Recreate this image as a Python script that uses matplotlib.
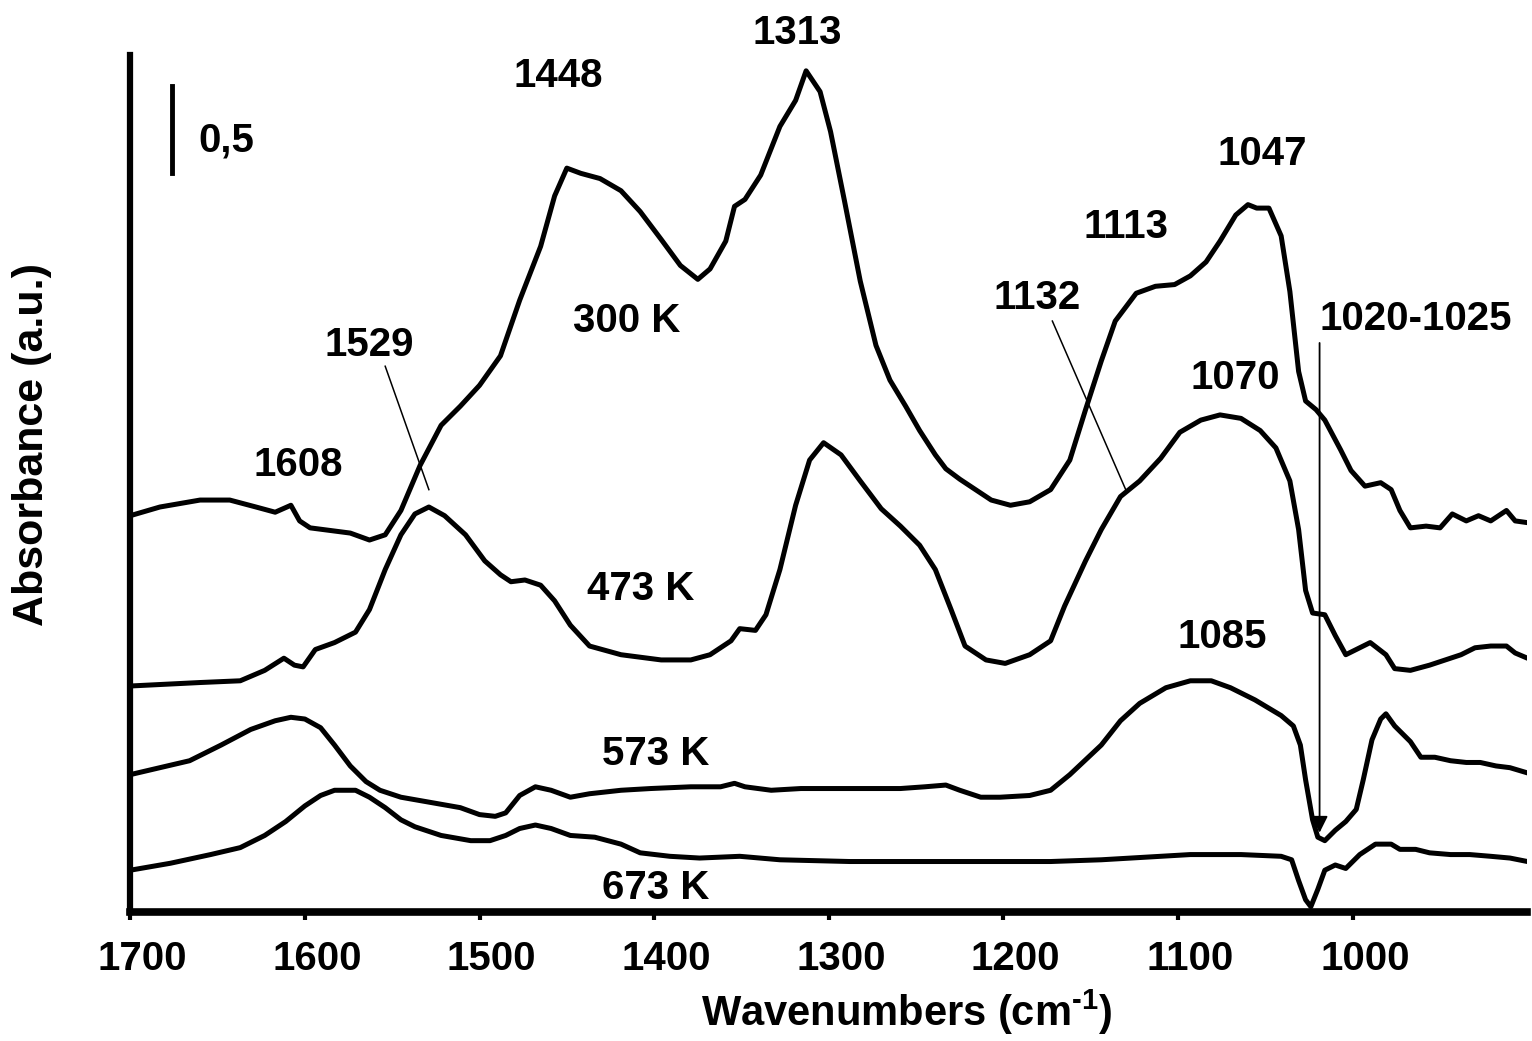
import matplotlib.pyplot as plt
import matplotlib.transforms as mtransforms

plt.rcParams['font.family'] = ['Liberation Sans', 'DejaVu Sans']
plt.rcParams['font.weight'] = 'bold'
plt.rcParams['mathtext.fontset'] = 'custom'
plt.rcParams['mathtext.bf'] = 'Liberation Sans:bold'
plt.rcParams['mathtext.rm'] = 'Liberation Sans:bold'

# spectra: wavenumber (cm-1), absorbance (a.u.)
wn_300 = [1700, 1683, 1660, 1643, 1628, 1617, 1608, 1603, 1597, 1574, 1563, 1554, 1545, 1534, 1522,
          1511, 1500, 1488, 1477, 1465, 1457, 1450, 1442, 1431, 1419, 1408, 1396, 1385, 1375, 1368,
          1359, 1354, 1348, 1339, 1328, 1319, 1313, 1305, 1299, 1291, 1282, 1273, 1265, 1256, 1248,
          1239, 1233, 1225, 1216, 1207, 1196, 1185, 1173, 1162, 1153, 1144, 1136, 1124, 1113, 1102,
          1093, 1084, 1076, 1067, 1060, 1055, 1048, 1041, 1036, 1031, 1027, 1021, 1016, 1007, 1001,
          993, 984, 978, 973, 967, 958, 950, 943, 935, 928, 921, 912, 907, 900]
abs_300 = [2.28, 2.33, 2.37, 2.37, 2.33, 2.30, 2.34, 2.25, 2.21, 2.18, 2.14, 2.17, 2.31, 2.57, 2.80,
           2.91, 3.03, 3.20, 3.52, 3.83, 4.12, 4.28, 4.25, 4.22, 4.15, 4.03, 3.87, 3.72, 3.64, 3.70,
           3.86, 4.06, 4.10, 4.24, 4.52, 4.67, 4.84, 4.72, 4.49, 4.09, 3.63, 3.26, 3.06, 2.91, 2.77,
           2.63, 2.55, 2.49, 2.43, 2.37, 2.34, 2.36, 2.43, 2.60, 2.89, 3.17, 3.40, 3.56, 3.60, 3.61,
           3.66, 3.74, 3.86, 4.01, 4.07, 4.05, 4.05, 3.89, 3.57, 3.11, 2.94, 2.89, 2.83, 2.66, 2.54,
           2.45, 2.47, 2.43, 2.31, 2.21, 2.22, 2.21, 2.29, 2.25, 2.28, 2.25, 2.31, 2.25, 2.24]

wn_473 = [1700, 1660, 1637, 1623, 1612, 1606, 1601, 1594, 1583, 1571, 1563, 1554, 1545, 1537, 1529,
          1520, 1508, 1497, 1488, 1482, 1474, 1465, 1457, 1448, 1437, 1419, 1396, 1379, 1368, 1356,
          1351, 1342, 1336, 1328, 1319, 1311, 1303, 1293, 1282, 1270, 1259, 1248, 1239, 1230, 1222,
          1210, 1199, 1185, 1173, 1165, 1153, 1144, 1133, 1122, 1110, 1099, 1087, 1076, 1064, 1053,
          1044, 1036, 1031, 1027, 1023, 1016, 1010, 1004, 998, 990, 981, 976, 967, 956, 947,
          938, 930, 921, 912, 907, 900]
abs_473 = [1.30, 1.32, 1.33, 1.39, 1.46, 1.42, 1.41, 1.51, 1.55, 1.61, 1.74, 1.97, 2.17, 2.29, 2.33,
           2.28, 2.17, 2.02, 1.94, 1.90, 1.91, 1.88, 1.79, 1.65, 1.53, 1.48, 1.45, 1.45, 1.48, 1.56,
           1.63, 1.62, 1.71, 1.97, 2.34, 2.60, 2.70, 2.63, 2.48, 2.32, 2.22, 2.11, 1.97, 1.74, 1.53,
           1.45, 1.43, 1.48, 1.56, 1.76, 2.02, 2.20, 2.39, 2.48, 2.61, 2.76, 2.83, 2.86, 2.84, 2.77,
           2.67, 2.48, 2.20, 1.85, 1.72, 1.71, 1.59, 1.48, 1.51, 1.55, 1.48, 1.40, 1.39, 1.42, 1.45,
           1.48, 1.52, 1.53, 1.53, 1.49, 1.46]

wn_573 = [1700, 1683, 1666, 1648, 1631, 1617, 1608, 1600, 1591, 1583, 1574, 1565, 1557, 1545, 1528,
          1511, 1500, 1491, 1485, 1477, 1468, 1459, 1448, 1437, 1419, 1402, 1379, 1362, 1354, 1348,
          1333, 1316, 1293, 1276, 1259, 1245, 1233, 1225, 1213, 1202, 1185, 1173, 1162, 1144, 1133,
          1122, 1107, 1093, 1081, 1070, 1056, 1041, 1034, 1030, 1027, 1023, 1020, 1016, 1010, 1004,
          998, 994, 989, 984, 981, 976, 967, 961, 953, 944, 935, 927, 918, 910, 900]
abs_573 = [0.79, 0.83, 0.87, 0.96, 1.05, 1.10, 1.12, 1.11, 1.06, 0.96, 0.84, 0.75, 0.70, 0.66, 0.63,
           0.60, 0.56, 0.55, 0.57, 0.67, 0.72, 0.70, 0.66, 0.68, 0.70, 0.71, 0.72, 0.72, 0.74, 0.72,
           0.70, 0.71, 0.71, 0.71, 0.71, 0.72, 0.73, 0.70, 0.66, 0.66, 0.67, 0.70, 0.79, 0.96, 1.10,
           1.20, 1.29, 1.33, 1.33, 1.29, 1.22, 1.13, 1.07, 0.96, 0.76, 0.53, 0.43, 0.41, 0.47, 0.52,
           0.59, 0.76, 0.99, 1.11, 1.14, 1.07, 0.98, 0.89, 0.89, 0.87, 0.86, 0.86, 0.84, 0.83, 0.80]

wn_673 = [1700, 1677, 1654, 1637, 1623, 1611, 1600, 1591, 1583, 1571, 1563, 1554, 1545, 1537, 1522,
          1505, 1494, 1485, 1477, 1468, 1459, 1448, 1434, 1419, 1408, 1391, 1374, 1351, 1328, 1288,
          1230, 1173, 1144, 1127, 1110, 1093, 1064, 1041, 1035, 1031, 1027, 1024, 1020, 1016, 1010,
          1004, 996, 987, 978, 973, 964, 956, 944, 933, 921, 910, 900]
abs_673 = [0.24, 0.28, 0.33, 0.37, 0.44, 0.52, 0.61, 0.67, 0.70, 0.70, 0.66, 0.60, 0.53, 0.49, 0.44,
           0.41, 0.41, 0.44, 0.48, 0.50, 0.48, 0.44, 0.43, 0.39, 0.34, 0.32, 0.31, 0.32, 0.30, 0.29,
           0.29, 0.29, 0.30, 0.31, 0.32, 0.33, 0.33, 0.32, 0.30, 0.18, 0.07, 0.03, 0.13, 0.24, 0.27,
           0.25, 0.33, 0.39, 0.39, 0.36, 0.36, 0.34, 0.33, 0.33, 0.32, 0.31, 0.29]

xticks = [1700, 1600, 1500, 1400, 1300, 1200, 1100, 1000]

fig = plt.figure(figsize=(15.32, 10.41), dpi=100)
ax = fig.add_axes([0.085, 0.124, 0.912, 0.823])

for wn, a in [(wn_300, abs_300), (wn_473, abs_473), (wn_573, abs_573), (wn_673, abs_673)]:
    ax.plot(wn, a, color='black', lw=3.6, solid_joinstyle='round', solid_capstyle='round')

ax.set_xlim(1700, 900)
ax.set_ylim(0, 4.93)
ax.set_xticks(xticks)
ax.set_yticks([])
ax.spines['top'].set_visible(False)
ax.spines['right'].set_visible(False)
ax.spines['left'].set_linewidth(4.5)
ax.spines['bottom'].set_linewidth(5.5)
ax.tick_params(axis='x', direction='out', length=6, width=3, labelsize=29, pad=14)
# tick labels sit a little right of their ticks in the original
shift = mtransforms.ScaledTranslation(0.12, 0, fig.dpi_scale_trans)
for lab in ax.get_xticklabels():
    lab.set_transform(lab.get_transform() + shift)

ax.set_xlabel('Wavenumbers (cm$^{\\mathrm{\\text{-}1}}$)', fontsize=30, fontweight='bold')
ax.xaxis.set_label_coords(0.556, -0.088)
ax.set_ylabel('Absorbance (a.u.)', fontsize=31, fontweight='bold')
ax.yaxis.set_label_coords(-0.056, 0.545)

# scale bar
ax.plot([1676, 1676], [4.25, 4.75], color='black', lw=3.5)
ax.text(1645, 4.44, '0,5', fontsize=29, ha='center', va='center')

labels = [('1313', 1318, 5.06), ('1448', 1455, 4.81), ('1047', 1052, 4.36), ('1113', 1130, 3.94),
          ('300 K', 1416, 3.40), ('1529', 1563, 3.26), ('1132', 1181, 3.53), ('1020-1025', 964, 3.41),
          ('1070', 1067, 3.07), ('1608', 1604, 2.57), ('473 K', 1408, 1.86), ('1085', 1075, 1.58),
          ('573 K', 1399, 0.91), ('673 K', 1399, 0.14)]
for s, x, y in labels:
    ax.text(x, y, s, fontsize=29, ha='center', va='center', clip_on=False)

# leader lines and arrow
ax.plot([1554, 1529], [3.14, 2.43], color='black', lw=1.1)
ax.plot([1172, 1130], [3.40, 2.43], color='black', lw=1.1)
ax.annotate('', xy=(1019, 0.44), xytext=(1019, 3.29),
            arrowprops=dict(arrowstyle='-|>', color='black', lw=1.3, mutation_scale=25))

fig.savefig('out.png', dpi=100)
